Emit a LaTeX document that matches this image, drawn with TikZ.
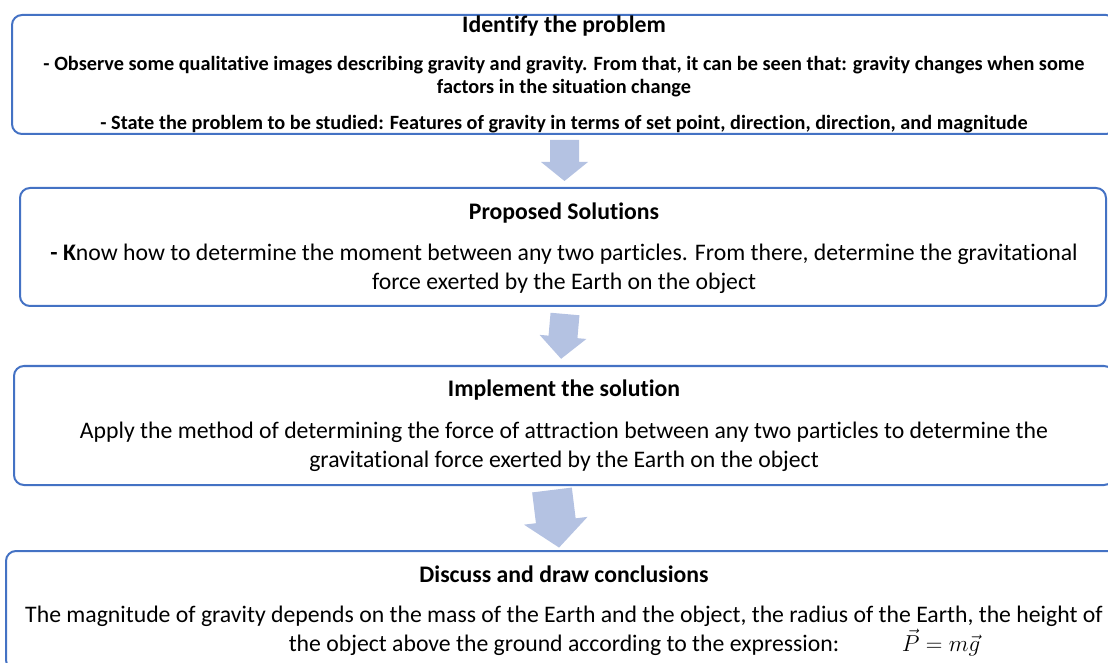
\documentclass[tikz,border=0pt]{standalone}
\usepackage{fontspec}
\setmainfont[Ligatures=NoCommon]{Carlito}
\usetikzlibrary{positioning}
\definecolor{bordo}{RGB}{68,114,196}
\definecolor{freccia}{RGB}{180,194,226}
% freccia piena: x, y (cima del fusto), rotazione, mezzo fusto, mezza testa, lunghezza, lunghezza testa
\newcommand{\frecciaBlocco}[7]{
\fill[freccia, shift={(#1,#2)}, rotate=#3] (-#4,0) -- (#4,0) -- (#4,#6-#7) -- (#5,#6-#7) -- (0,#6) -- (-#5,#6-#7) -- (-#4,#6-#7) -- cycle;
}

\begin{document}
\begin{tikzpicture}[x=0.75pt, y=-0.75pt,
    scatola/.style={draw=bordo, line width=1.5pt, rounded corners=7.5pt, inner sep=0pt},
    titolo/.style={anchor=base, inner sep=0pt, font=\fontsize{17.8}{21}\selectfont\bfseries},
    riga/.style={anchor=base, inner sep=0pt, font=\fontsize{17.8}{21}\selectfont},
    rigaB/.style={anchor=base, inner sep=0pt, font=\fontsize{15.2}{18}\selectfont\bfseries}]
    \useasboundingbox (0,0) rectangle (1108,663);
    % Parametri
    \pgfmathsetmacro{\xc}{564}
    % Riquadri
    \node[scatola, minimum width=1104*0.75pt, minimum height=119*0.75pt] (r1) at (\xc,74.5) {};
    \node[scatola, minimum width=1086*0.75pt, minimum height=118*0.75pt] (r2) at (563,247) {};
    \node[scatola, minimum width=1100*0.75pt, minimum height=119*0.75pt] (r3) at (\xc,425.5) {};
    \node[scatola, minimum width=1116*0.75pt, minimum height=119*0.75pt] (r4) at (\xc,610.5) {};
    % Identificare il problema
    \node[titolo] (t1) at (\xc,33) {Identify the problem};
    \node[rigaB] (l1a) at (\xc,71) {- Observe some qualitative images describing gravity and gravity. From that, it can be seen that: gravity changes when some};
    \node[rigaB] (l1b) at (\xc,94) {factors in the situation change};
    \node[rigaB] (l1c) at (\xc,130) {- State the problem to be studied: Features of gravity in terms of set point, direction, direction, and magnitude};
    % Soluzioni proposte
    \node[titolo] (t2) at (\xc,220) {Proposed Solutions};
    \node[riga] (l2a) at (\xc,261) {{\bfseries - K}now how to determine the moment between any two particles. From there, determine the gravitational};
    \node[riga] (l2b) at (\xc,290) {force exerted by the Earth on the object};
    % Implementare la soluzione
    \node[titolo] (t3) at (\xc,397) {Implement the solution};
    \node[riga] (l3a) at (\xc,438) {Apply the method of determining the force of attraction between any two particles to determine the};
    \node[riga] (l3b) at (\xc,467) {gravitational force exerted by the Earth on the object};
    % Conclusioni
    \node[titolo] (t4) at (\xc,582) {Discuss and draw conclusions};
    \node[riga] (l4a) at (\xc,622) {The magnitude of gravity depends on the mass of the Earth and the object, the radius of the Earth, the height of};
    \node[riga] (l4b) at (\xc,651) {the object above the ground according to the expression:};
    \node[riga, font=\fontsize{18.5}{21}\selectfont] (eq) at (941,651) {$\vec{P} = m\vec{g}$};
    % Frecce
    \frecciaBlocco{564.5}{140}{0}{14.5}{23.5}{41}{19}
    \frecciaBlocco{565}{314}{-5}{14.5}{23.5}{45}{22}
    \frecciaBlocco{552}{490}{7}{20}{32}{58}{27}
\end{tikzpicture}
\end{document}
